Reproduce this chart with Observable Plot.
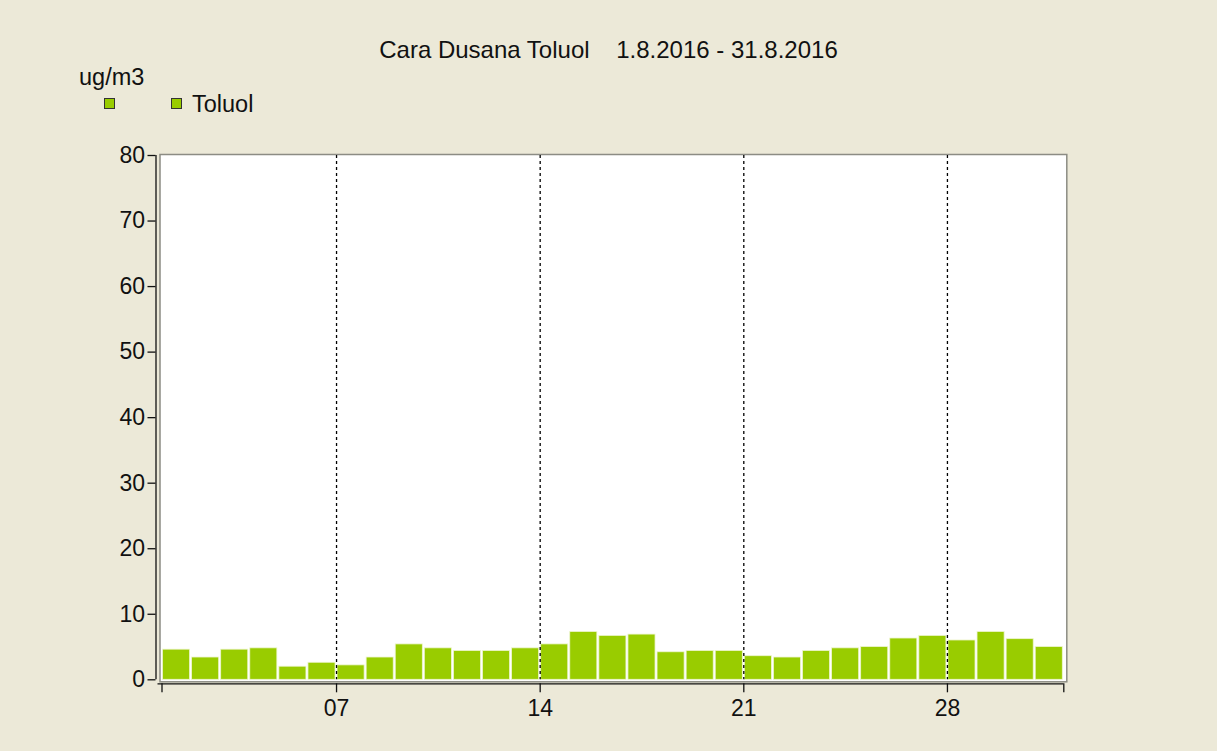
<!DOCTYPE html>
<html>
<head>
<meta charset="utf-8">
<script src="https://cdn.jsdelivr.net/npm/d3@7"></script>
<script src="https://cdn.jsdelivr.net/npm/@observablehq/plot@0.6"></script>
<style>
  html, body { margin: 0; padding: 0; background: #ECE9D8; }
  #wrap { position: relative; width: 1217px; height: 751px; overflow: hidden; background: #ECE9D8;
          font-family: "Liberation Sans", Arial, sans-serif; color: #111; }
  #title { position: absolute; top: 38px; left: 0; width: 1217px; text-align: center; font-size: 24px; line-height: 24px; white-space: pre; }
  #unit { position: absolute; top: 66px; left: 79px; font-size: 23.5px; line-height: 23px; }
  .sw { position: absolute; width: 9px; height: 9px; border: 1px solid #333; background: #99CC00; }
  #lab { position: absolute; top: 93px; left: 192px; font-size: 23.5px; line-height: 23px; }
  #chart { position: absolute; top: 120px; left: 0; }
</style>
</head>
<body>
<div id="wrap">
  <div id="title"></div>
  <div id="unit"></div>
  <div class="sw" style="left:104px; top:98px;"></div>
  <div class="sw" style="left:171px; top:98px;"></div>
  <div id="lab"></div>
  <div id="chart"></div>
</div>
<script>
const titleText = "Cara Dusana Toluol    1.8.2016 - 31.8.2016";
const unitText = "ug/m3";
const seriesName = "Toluol";
const days = [1,2,3,4,5,6,7,8,9,10,11,12,13,14,15,16,17,18,19,20,21,22,23,24,25,26,27,28,29,30,31];
const values = [4.6,3.4,4.6,4.8,2.0,2.6,2.2,3.4,5.4,4.8,4.4,4.4,4.8,5.4,7.3,6.7,6.9,4.2,4.4,4.4,3.6,3.4,4.4,4.8,5.0,6.3,6.7,6.0,7.3,6.2,5.0];
const xTickDates = ["2016-08-01","2016-08-07","2016-08-14","2016-08-21","2016-08-28","2016-09-01"];
const xTickLabels = ["","07","14","21","28",""];
const gridDates = ["2016-08-07","2016-08-14","2016-08-21","2016-08-28"];
const yTicks = [0,10,20,30,40,50,60,70,80];
const barColor = "#99CC00";

document.getElementById("title").textContent = titleText;
document.getElementById("unit").textContent = unitText;
document.getElementById("lab").textContent = seriesName;

const data = days.map((d, i) => ({date: new Date(Date.UTC(2016, 7, d)), value: values[i]}));
const xTicks = xTickDates.map(s => new Date(s + "T00:00:00Z"));
const grid = gridDates.map(s => new Date(s + "T00:00:00Z"));
const labelOf = new Map(xTicks.map((d, i) => [+d, xTickLabels[i]]));

const chart = Plot.plot({
  width: 1217,
  height: 631,
  marginLeft: 161.5,
  marginRight: 153.7,
  marginTop: 35,
  marginBottom: 71.7,
  style: {background: "transparent", fontFamily: "Liberation Sans, Arial, sans-serif", fontSize: "23px", color: "#111"},
  x: {type: "utc", domain: [xTicks[0], xTicks[xTicks.length - 1]], label: null},
  y: {domain: [0, 80], label: null},
  marks: [
    Plot.frame({fill: "white", stroke: "#8c8c84", strokeWidth: 1.5, insetLeft: -2, insetTop: -1, insetRight: -3, insetBottom: -2}),
    Plot.rectY(data, {x: "date", y: "value", interval: "day", fill: barColor, stroke: "#eef5d0", strokeWidth: 0.8, insetLeft: 1, insetRight: 1}),
    Plot.ruleX(grid, {stroke: "#000", strokeWidth: 1.3, strokeDasharray: "3,3"}),
    Plot.ruleX([xTicks[0]], {y1: 0, y2: 80, dx: -6, stroke: "#111", strokeWidth: 1.3}),
    Plot.ruleY([0], {dy: 4, insetLeft: -4, stroke: "#111", strokeWidth: 1.3}),
    Plot.axisY({ticks: yTicks, anchor: "left", label: null, dx: -6, tickSize: 8, tickPadding: 3, stroke: "#111", strokeWidth: 1.3, fontSize: 23}),
    Plot.axisX({ticks: xTicks, anchor: "bottom", label: null, dy: 4, tickSize: 9, tickPadding: 7, tickFormat: d => labelOf.get(+d) ?? "", stroke: "#111", strokeWidth: 1.3, fontSize: 23})
  ]
});
document.getElementById("chart").appendChild(chart);
</script>
</body>
</html>
